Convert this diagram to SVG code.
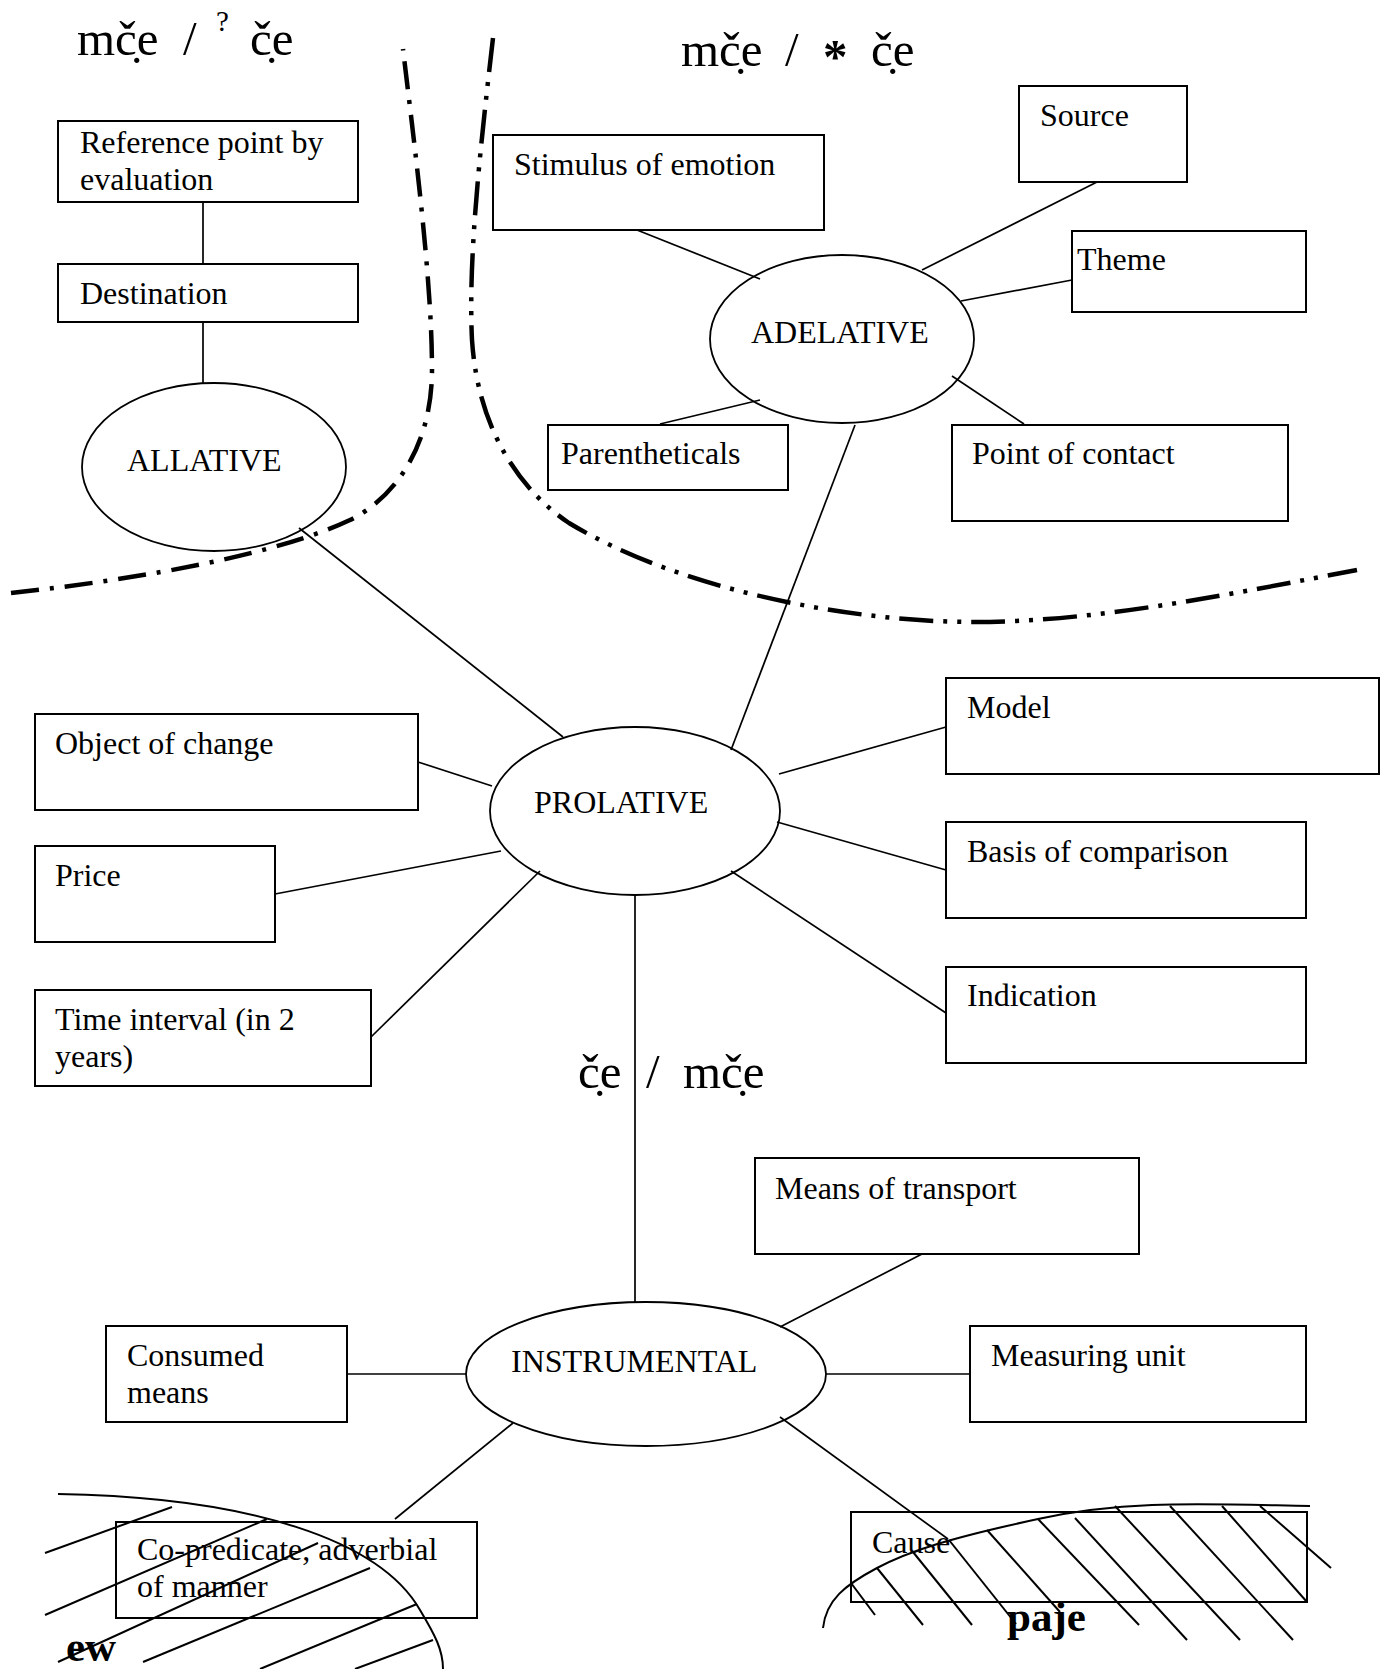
<svg xmlns="http://www.w3.org/2000/svg" width="1384" height="1669" viewBox="0 0 1384 1669">
<style>
text{font-family:"Liberation Serif","Times New Roman",serif;fill:#000}
.t{font-size:32px}
.h{font-size:49px}
.b{font-size:43px;font-weight:bold}
.box{fill:none;stroke:#000;stroke-width:2}
.ell{fill:none;stroke:#000;stroke-width:1.8}
.ln{stroke:#000;stroke-width:1.7;fill:none}
.hat{stroke:#000;stroke-width:2;fill:none}
.d1{fill:none;stroke:#000;stroke-width:4.5;stroke-dasharray:28 11 4 11}
.d2{fill:none;stroke:#000;stroke-width:4.5;stroke-dasharray:34 10 4 10 4 10}
</style>
<rect width="1384" height="1669" fill="#fff"/>

<g id="headings">
<text class="h" y="55"><tspan x="77">mč̣e</tspan><tspan x="183">/</tspan><tspan x="216" y="31" style="font-size:29px">?</tspan><tspan x="250" y="55">č̣e</tspan></text>
<text class="h" y="66"><tspan x="681">mč̣e</tspan><tspan x="785">/</tspan><tspan x="823" y="73" style="font-weight:bold">*</tspan><tspan x="871" y="66">č̣e</tspan></text>
<text class="h" y="1088"><tspan x="578">č̣e</tspan><tspan x="646">/</tspan><tspan x="683">mč̣e</tspan></text>
</g>

<g id="boundaries">
<path class="d1" d="M11,593 C150,578 280,553 350,520 C400,495 432,440 432,370 C432,280 415,150 403,49"/>
<path class="d2" d="M493,38 C480,150 468,260 472,340 C478,430 520,490 569,523 C680,590 850,622 975,622 C1100,622 1240,592 1357,570"/>
</g>

<g id="hatch-left">
<path class="hat" d="M58,1494 C250,1497 380,1540 420,1610 C435,1635 443,1650 443,1669"/>
<line class="hat" x1="45" y1="1553" x2="172" y2="1507"/>
<line class="hat" x1="45" y1="1615" x2="267" y2="1519"/>
<line class="hat" x1="58" y1="1662" x2="318" y2="1543"/>
<line class="hat" x1="143" y1="1662" x2="370" y2="1568"/>
<line class="hat" x1="260" y1="1669" x2="417" y2="1604"/>
<line class="hat" x1="355" y1="1669" x2="433" y2="1640"/>
<text class="b" x="66" y="1661">ew</text>
</g>

<g id="hatch-right">
<path class="hat" d="M823,1628 C826,1600 845,1585 877,1568 S950,1538 1038,1519 S1200,1504 1310,1506"/>
<line class="hat" x1="851" y1="1583" x2="875" y2="1615"/>
<line class="hat" x1="877" y1="1568" x2="923" y2="1625"/>
<line class="hat" x1="913" y1="1552" x2="972" y2="1625"/>
<line class="hat" x1="949" y1="1540" x2="1016" y2="1624"/>
<line class="hat" x1="987" y1="1530" x2="1060" y2="1612"/>
<line class="hat" x1="1038" y1="1519" x2="1139" y2="1625"/>
<line class="hat" x1="1075" y1="1518" x2="1187" y2="1640"/>
<line class="hat" x1="1115" y1="1506" x2="1240" y2="1640"/>
<line class="hat" x1="1170" y1="1506" x2="1293" y2="1640"/>
<line class="hat" x1="1222" y1="1506" x2="1307" y2="1602"/>
<line class="hat" x1="1260" y1="1506" x2="1331" y2="1568"/>
<text class="b" x="1007" y="1631">paje</text>
</g>

<g id="connectors">
<line class="ln" x1="203" y1="202" x2="203" y2="264"/>
<line class="ln" x1="203" y1="322" x2="203" y2="384"/>
<line class="ln" x1="299" y1="528" x2="563" y2="737"/>
<line class="ln" x1="637" y1="230" x2="760" y2="279"/>
<line class="ln" x1="1097" y1="182" x2="922" y2="270"/>
<line class="ln" x1="1072" y1="280" x2="961" y2="301"/>
<line class="ln" x1="660" y1="424" x2="760" y2="400"/>
<line class="ln" x1="1024" y1="424" x2="952" y2="376"/>
<line class="ln" x1="855" y1="425" x2="731" y2="750"/>
<line class="ln" x1="418" y1="762" x2="492" y2="786"/>
<line class="ln" x1="275" y1="894" x2="501" y2="851"/>
<line class="ln" x1="371" y1="1037" x2="540" y2="871"/>
<line class="ln" x1="946" y1="727" x2="779" y2="774"/>
<line class="ln" x1="946" y1="870" x2="777" y2="822"/>
<line class="ln" x1="946" y1="1013" x2="731" y2="871"/>
<line class="ln" x1="635" y1="895" x2="635" y2="1302"/>
<line class="ln" x1="922" y1="1254" x2="780" y2="1327"/>
<line class="ln" x1="347" y1="1374" x2="466" y2="1374"/>
<line class="ln" x1="826" y1="1374" x2="970" y2="1374"/>
<line class="ln" x1="513" y1="1423" x2="395" y2="1519"/>
<line class="ln" x1="780" y1="1417" x2="948" y2="1539"/>
</g>

<g id="n-ref"><rect class="box" x="58" y="121" width="300" height="81"/><text class="t" x="80" y="153">Reference point by</text><text class="t" x="80" y="190">evaluation</text></g>
<g id="n-destination"><rect class="box" x="58" y="264" width="300" height="58"/><text class="t" x="80" y="304">Destination</text></g>
<g id="n-allative"><ellipse class="ell" cx="214" cy="467" rx="132" ry="84"/><text class="t" x="127" y="471">ALLATIVE</text></g>
<g id="n-stimulus"><rect class="box" x="493" y="135" width="331" height="95"/><text class="t" x="514" y="175">Stimulus of emotion</text></g>
<g id="n-source"><rect class="box" x="1019" y="86" width="168" height="96"/><text class="t" x="1040" y="126">Source</text></g>
<g id="n-theme"><rect class="box" x="1072" y="231" width="234" height="81"/><text class="t" x="1077" y="270">Theme</text></g>
<g id="n-adelative"><ellipse class="ell" cx="842" cy="339" rx="132" ry="84"/><text class="t" x="751" y="343">ADELATIVE</text></g>
<g id="n-parentheticals"><rect class="box" x="548" y="425" width="240" height="65"/><text class="t" x="561" y="464">Parentheticals</text></g>
<g id="n-contact"><rect class="box" x="952" y="425" width="336" height="96"/><text class="t" x="972" y="464">Point of contact</text></g>
<g id="n-prolative"><ellipse class="ell" cx="635" cy="811" rx="145" ry="84"/><text class="t" x="534" y="813">PROLATIVE</text></g>
<g id="n-object"><rect class="box" x="35" y="714" width="383" height="96"/><text class="t" x="55" y="754">Object of change</text></g>
<g id="n-price"><rect class="box" x="35" y="846" width="240" height="96"/><text class="t" x="55" y="886">Price</text></g>
<g id="n-time"><rect class="box" x="35" y="990" width="336" height="96"/><text class="t" x="55" y="1030">Time interval (in 2</text><text class="t" x="55" y="1067">years)</text></g>
<g id="n-model"><rect class="box" x="946" y="678" width="433" height="96"/><text class="t" x="967" y="718">Model</text></g>
<g id="n-basis"><rect class="box" x="946" y="822" width="360" height="96"/><text class="t" x="967" y="862">Basis of comparison</text></g>
<g id="n-indication"><rect class="box" x="946" y="967" width="360" height="96"/><text class="t" x="967" y="1006">Indication</text></g>
<g id="n-transport"><rect class="box" x="755" y="1158" width="384" height="96"/><text class="t" x="775" y="1199">Means of transport</text></g>
<g id="n-instrumental"><ellipse class="ell" cx="646" cy="1374" rx="180" ry="72"/><text class="t" x="511" y="1372">INSTRUMENTAL</text></g>
<g id="n-consumed"><rect class="box" x="106" y="1326" width="241" height="96"/><text class="t" x="127" y="1366">Consumed</text><text class="t" x="127" y="1403">means</text></g>
<g id="n-measuring"><rect class="box" x="970" y="1326" width="336" height="96"/><text class="t" x="991" y="1366">Measuring unit</text></g>
<g id="n-copredicate"><rect class="box" x="116" y="1522" width="361" height="96"/><text class="t" x="137" y="1560">Co-predicate, adverbial</text><text class="t" x="137" y="1597">of manner</text></g>
<g id="n-cause"><rect class="box" x="851" y="1512" width="456" height="90"/><text class="t" x="872" y="1553">Cause</text></g>
</svg>
